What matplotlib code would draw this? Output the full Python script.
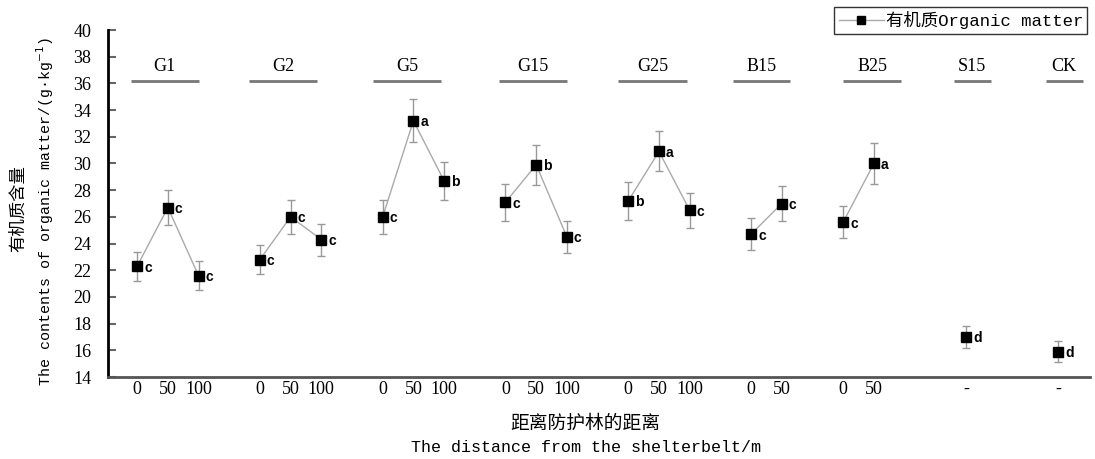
import matplotlib
matplotlib.use('Agg')
import matplotlib.pyplot as plt
from matplotlib.lines import Line2D
import numpy as np

plt.rcParams['font.family'] = ['Liberation Serif', 'Noto Sans CJK SC', 'DejaVu Sans']

# data
groups = ['G1', 'G2', 'G5', 'G15', 'G25', 'B15', 'B25', 'S15', 'CK']
dist_labels = [['0', '50', '100'], ['0', '50', '100'], ['0', '50', '100'],
               ['0', '50', '100'], ['0', '50', '100'], ['0', '50'], ['0', '50'],
               ['-'], ['-']]
values = [[22.3, 26.7, 21.6], [22.8, 26.0, 24.3], [26.0, 33.2, 28.7],
          [27.1, 29.9, 24.5], [27.2, 30.9, 26.5], [24.7, 27.0], [25.6, 30.0],
          [17.0], [15.9]]
errors = [[1.1, 1.3, 1.1], [1.1, 1.3, 1.2], [1.3, 1.6, 1.4],
          [1.4, 1.5, 1.2], [1.4, 1.5, 1.3], [1.2, 1.3], [1.2, 1.5],
          [0.8], [0.8]]
letters = [['c', 'c', 'c'], ['c', 'c', 'c'], ['c', 'a', 'b'],
           ['c', 'b', 'c'], ['b', 'a', 'c'], ['c', 'c'], ['c', 'a'],
           ['d'], ['d']]

# layout: empty slots after each group, header line extent relative to group start
gap_after = [1, 1, 1, 1, 1, 1, 2, 2, 0]
line_ext = [(-0.2, 2.0), (-0.35, 1.86), (-0.31, 1.9), (-0.2, 2.0), (-0.33, 1.9),
            (-0.6, 1.27), (0.0, 1.9), (-0.4, 0.8), (-0.4, 0.8)]

mono = ['Liberation Mono', 'Noto Sans CJK SC']

fig = plt.figure(figsize=(10.95, 4.59), dpi=100)
ax = fig.add_axes([0.0986, 0.1786, 0.8968, 0.756])

start = 0
xticks, xticklabels = [], []
for i, g in enumerate(groups):
    x = np.arange(len(values[i])) + start
    ax.plot(x, values[i], color='#aaaaaa', lw=1, zorder=1)
    ax.errorbar(x, values[i], yerr=errors[i], fmt='none', ecolor='#999999',
                elinewidth=1, capsize=3, capthick=1, zorder=2)
    ax.plot(x, values[i], 's', color='black', ms=7.5, zorder=3)
    for xi, yi, lt in zip(x, values[i], letters[i]):
        ax.annotate(lt, (xi, yi), xytext=(5, -1), textcoords='offset points',
                    ha='left', va='center', fontsize=10, fontweight='bold',
                    family='Liberation Sans')
    x0, x1 = start + line_ext[i][0], start + line_ext[i][1]
    ax.plot([x0, x1], [36.2, 36.2], color='#777777', lw=2, solid_capstyle='butt')
    ax.text((x0 + x1) / 2, 36.6, g, ha='center', va='bottom', fontsize=13)
    xticks += list(x)
    xticklabels += dist_labels[i]
    start += len(values[i]) + gap_after[i]

ax.set_xlim(-0.95, 31.04)
ax.set_ylim(14, 40)
ax.set_yticks(np.arange(14, 41, 2))
ax.set_xticks(xticks)
ax.set_xticklabels(xticklabels, fontsize=13)
ax.tick_params(axis='x', length=0, pad=3)
ax.tick_params(axis='y', direction='in', length=6, width=1.5, color='#666666',
               labelsize=13, pad=12)

ax.spines['top'].set_visible(False)
ax.spines['right'].set_visible(False)
ax.spines['left'].set_linewidth(2)
ax.spines['left'].set_color('black')
ax.spines['bottom'].set_linewidth(2)
ax.spines['bottom'].set_color('#555555')

fig.text(0.0165, 0.545, '有机质含量', rotation=90, ha='center', va='center',
         fontsize=12.5, family=['Noto Sans CJK SC'])
fig.text(0.041, 0.538, 'The contents of organic matter/(g·kg$^{-1}$)', rotation=90,
         ha='center', va='center', fontsize=10.8, family=mono)
fig.text(0.535, 0.078, '距离防护林的距离', ha='center', va='center', fontsize=13.5,
         family=['Noto Sans CJK SC'])
fig.text(0.535, 0.026, 'The distance from the shelterbelt/m', ha='center',
         va='center', fontsize=12, family=mono)

handle = Line2D([], [], color='#aaaaaa', lw=1, marker='s', mfc='black',
                mec='black', ms=6)
leg = fig.legend([handle], ['有机质Organic matter'], loc='upper right',
                 bbox_to_anchor=(0.993, 0.985), frameon=True, fancybox=False,
                 prop={'family': mono, 'size': 12.5}, handlelength=2.6,
                 handletextpad=0.1, borderpad=0.25, borderaxespad=0)
leg.get_frame().set_edgecolor('black')
leg.get_frame().set_linewidth(1)

fig.savefig('out.png', dpi=100)
